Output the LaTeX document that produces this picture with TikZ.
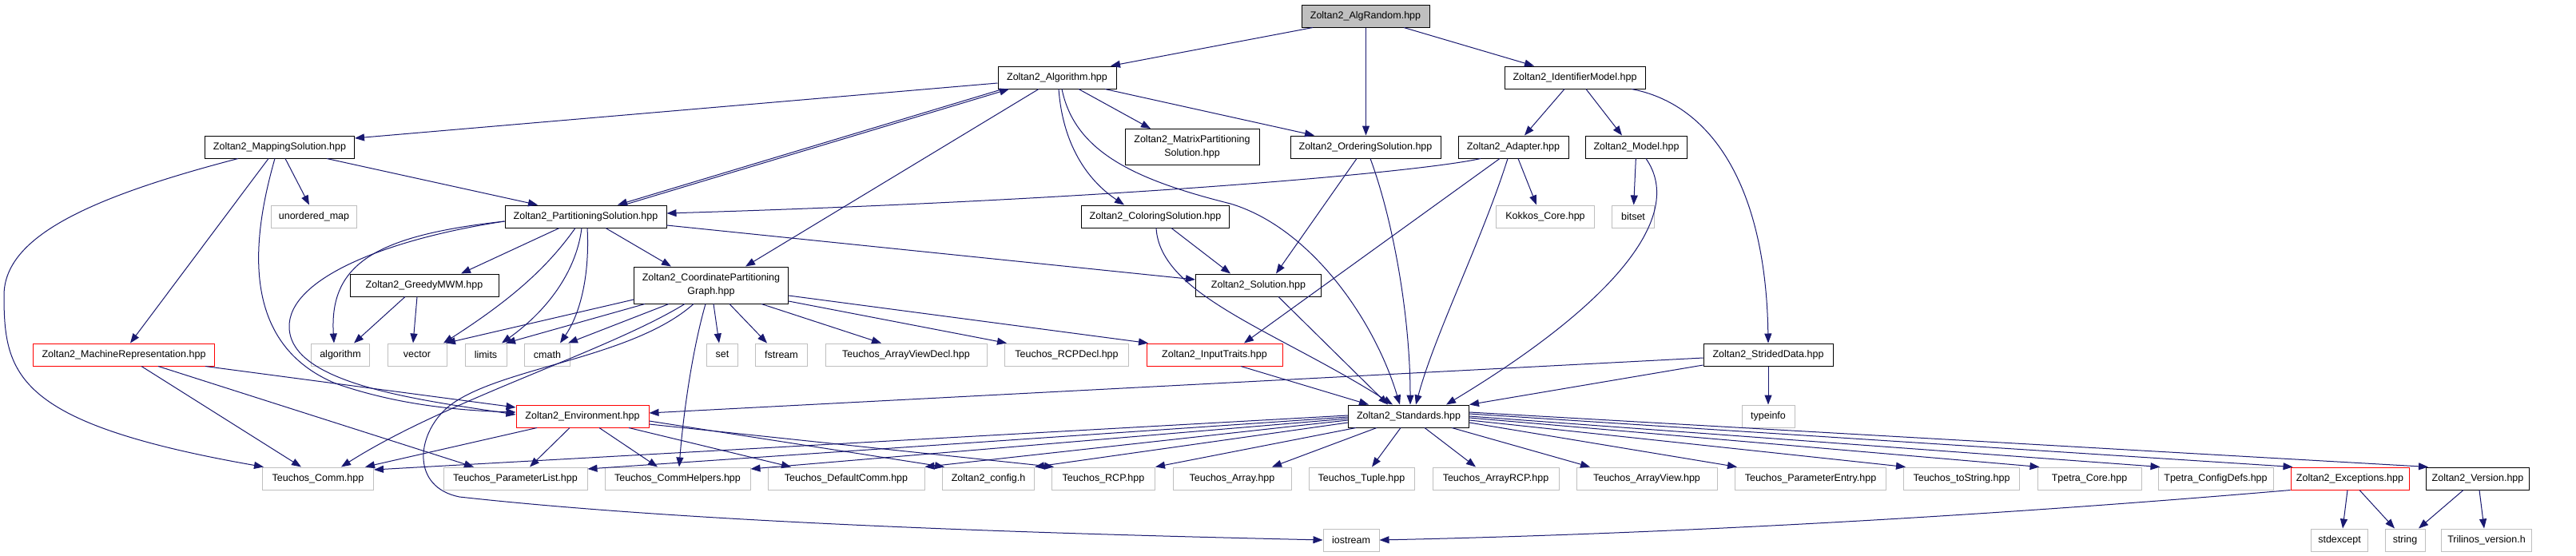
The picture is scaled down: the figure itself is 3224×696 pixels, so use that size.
\documentclass[tikz,border=0pt]{standalone}
\usepackage{fontspec}
\setmainfont{Liberation Sans}
\usetikzlibrary{arrows.meta}
\definecolor{edgeblue}{RGB}{25,25,112}
\definecolor{grayline}{RGB}{191,191,191}
\begin{document}
\begin{tikzpicture}[x=1pt,y=-1pt,
 box/.style={draw=black,line width=1pt,rectangle,inner sep=0pt,minimum height=28pt,font=\fontsize{12.5}{17}\selectfont,align=center},
 ext/.style={box,draw=grayline},
 trunc/.style={box,draw=red},
 root/.style={box,fill=grayline},
 e/.style={draw=edgeblue,line width=1pt,-{Triangle[length=12pt,width=9pt]}},
]
\useasboundingbox[fill=white] (0,0) rectangle (3224,696);
% row 0
\node[root,minimum width=160pt] (alg) at (1709,20) {Zoltan2\_AlgRandom.hpp};
% row 1
\node[box,minimum width=148pt] (algo) at (1323,97) {Zoltan2\_Algorithm.hpp};
\node[box,minimum width=176pt] (idm) at (1971,97) {Zoltan2\_IdentifierModel.hpp};
% row 2
\node[box,minimum width=187pt] (map) at (350,184) {Zoltan2\_MappingSolution.hpp};
\node[box,minimum width=168pt,minimum height=45pt] (mat) at (1492,184) {Zoltan2\_MatrixPartitioning\\Solution.hpp};
\node[box,minimum width=188pt] (ord) at (1709,184) {Zoltan2\_OrderingSolution.hpp};
\node[box,minimum width=138pt] (adp) at (1894,184) {Zoltan2\_Adapter.hpp};
\node[box,minimum width=127pt] (mdl) at (2048,184) {Zoltan2\_Model.hpp};
% row 3
\node[ext,minimum width=107pt] (umap) at (393,271) {unordered\_map};
\node[box,minimum width=202pt] (part) at (733,271) {Zoltan2\_PartitioningSolution.hpp};
\node[box,minimum width=185pt] (col) at (1446,271) {Zoltan2\_ColoringSolution.hpp};
\node[ext,minimum width=123pt] (kok) at (1934,271) {Kokkos\_Core.hpp};
\node[ext,minimum width=53pt] (bits) at (2044,271) {bitset};
% row 4
\node[box,minimum width=186pt] (grd) at (531,357) {Zoltan2\_GreedyMWM.hpp};
\node[box,minimum width=193pt,minimum height=46pt] (crd) at (890,357) {Zoltan2\_CoordinatePartitioning\\Graph.hpp};
\node[box,minimum width=157pt] (sol) at (1575,357) {Zoltan2\_Solution.hpp};
% row 5
\node[trunc,minimum width=227pt] (mach) at (155,444) {Zoltan2\_MachineRepresentation.hpp};
\node[ext,minimum width=73pt] (algm) at (426,444) {algorithm};
\node[ext,minimum width=74pt] (vec) at (522,444) {vector};
\node[ext,minimum width=52pt] (lim) at (608,444) {limits};
\node[ext,minimum width=57pt] (cmath) at (685,444) {cmath};
\node[ext,minimum width=39pt] (set) at (904,444) {set};
\node[ext,minimum width=65pt] (fstr) at (978,444) {fstream};
\node[ext,minimum width=202pt] (avd) at (1134,444) {Teuchos\_ArrayViewDecl.hpp};
\node[ext,minimum width=155pt] (rcpd) at (1335,444) {Teuchos\_RCPDecl.hpp};
\node[trunc,minimum width=170pt] (inp) at (1520,444) {Zoltan2\_InputTraits.hpp};
\node[box,minimum width=162pt] (str) at (2213,444) {Zoltan2\_StridedData.hpp};
% row 6
\node[trunc,minimum width=166pt] (env) at (729,521) {Zoltan2\_Environment.hpp};
\node[box,minimum width=151pt] (std) at (1763,521) {Zoltan2\_Standards.hpp};
\node[ext,minimum width=66pt] (tinf) at (2213,521) {typeinfo};
% row 7
\node[ext,minimum width=139pt] (comm) at (398,599) {Teuchos\_Comm.hpp};
\node[ext,minimum width=180pt] (plist) at (645,599) {Teuchos\_ParameterList.hpp};
\node[ext,minimum width=182pt] (chelp) at (848,599) {Teuchos\_CommHelpers.hpp};
\node[ext,minimum width=196pt] (dcomm) at (1059,599) {Teuchos\_DefaultComm.hpp};
\node[ext,minimum width=115pt] (cfg) at (1237,599) {Zoltan2\_config.h};
\node[ext,minimum width=129pt] (rcp) at (1381,599) {Teuchos\_RCP.hpp};
\node[ext,minimum width=148pt] (arr) at (1542,599) {Teuchos\_Array.hpp};
\node[ext,minimum width=132pt] (tup) at (1704,599) {Teuchos\_Tuple.hpp};
\node[ext,minimum width=158pt] (arcp) at (1872,599) {Teuchos\_ArrayRCP.hpp};
\node[ext,minimum width=176pt] (av) at (2061,599) {Teuchos\_ArrayView.hpp};
\node[ext,minimum width=189pt] (pent) at (2266,599) {Teuchos\_ParameterEntry.hpp};
\node[ext,minimum width=145pt] (tstr) at (2455,599) {Teuchos\_toString.hpp};
\node[ext,minimum width=130pt] (tcore) at (2615,599) {Tpetra\_Core.hpp};
\node[ext,minimum width=144pt] (tcfg) at (2773,599) {Tpetra\_ConfigDefs.hpp};
\node[trunc,minimum width=148pt] (exc) at (2941,599) {Zoltan2\_Exceptions.hpp};
\node[box,minimum width=129pt] (ver) at (3101,599) {Zoltan2\_Version.hpp};
% row 8
\node[ext,minimum width=70pt] (ios) at (1691,676) {iostream};
\node[ext,minimum width=71pt] (stdx) at (2928,676) {stdexcept};
\node[ext,minimum width=50pt] (strg) at (3010,676) {string};
\node[ext,minimum width=113pt] (tver) at (3112,676) {Trilinos\_version.h};

% AlgRandom
\draw[e] ([xshift=-66pt]alg.south) -- ([xshift=67pt]algo.north);
\draw[e] ([xshift=0.5pt]alg.south) -- ([xshift=0.5pt]ord.north);
\draw[e] ([xshift=48pt]alg.south) -- ([xshift=-51pt]idm.north);
% Algorithm
\draw[e] ([yshift=-7pt]algo.west) -- ([yshift=11pt]map.east);
\draw[e] ([xshift=-68pt]algo.south) -- ([xshift=40pt]part.north);
\draw[e] ([xshift=48pt]part.north) -- ([xshift=-60pt]algo.south);
\draw[e] ([xshift=27pt]algo.south) -- ([xshift=-52pt]mat.north);
\draw[e] ([xshift=60pt]algo.south) -- ([xshift=-64pt]ord.north);
\draw[e] ([xshift=2pt]algo.south) .. controls (1330,180) and (1360,225) .. ([xshift=-39pt]col.north);
\draw[e] ([xshift=-23pt]algo.south) -- ([xshift=43pt]crd.north);
\draw[e] ([xshift=6pt]algo.south) .. controls (1345,190) and (1420,225) .. (1540,255) .. controls (1640,285) and (1720,400) .. ([xshift=-11pt]std.north);
% Mapping
\draw[e] ([xshift=7pt]map.south) -- ([xshift=-6pt]umap.north);
\draw[e] ([xshift=59pt]map.south) -- ([xshift=-60pt]part.north);
\draw[e] ([xshift=-52pt]map.south) .. controls (100,250) and (5,300) .. (5,370) .. controls (5,470) and (20,530) .. ([xshift=-68pt]comm.north);
\draw[e] ([xshift=-14pt]map.south) -- ([xshift=8pt]mach.north);
\draw[e] ([xshift=-6pt]map.south) .. controls (315,300) and (300,430) .. (420,480) .. controls (500,508) and (580,514) .. ([yshift=5pt]env.west);
% Partitioning
\draw[e] ([yshift=-6pt]part.west) .. controls (480,300) and (360,350) .. (362,410) .. controls (364,480) and (520,500) .. ([yshift=2pt]env.west);
\draw[e] ([yshift=-6pt]part.west) .. controls (470,295) and (412,330) .. ([xshift=-8pt]algm.north);
\draw[e] ([xshift=-33pt]part.south) -- ([xshift=46pt]grd.north);
\draw[e] ([xshift=-13pt]part.south) .. controls (685,335) and (640,375) .. ([xshift=33pt]vec.north);
\draw[e] ([xshift=-5pt]part.south) .. controls (722,335) and (690,385) .. ([xshift=20pt]lim.north);
\draw[e] ([xshift=2pt]part.south) .. controls (738,340) and (728,390) .. ([xshift=16pt]cmath.north);
\draw[e] ([xshift=25pt]part.south) -- ([xshift=-50pt]crd.north);
\draw[e] ([yshift=-11pt]part.east) -- ([yshift=7pt]sol.west);
% Greedy
\draw[e] ([xshift=-24pt]grd.south) -- ([xshift=17pt]algm.north);
\draw[e] ([xshift=-9pt]grd.south) -- ([xshift=-5pt]vec.north);
% Coordinate partitioning graph
\draw[e] ([yshift=-18pt]crd.west) -- ([xshift=36pt]vec.north);
\draw[e] ([xshift=-83pt]crd.south) -- ([xshift=25pt]lim.north);
\draw[e] ([xshift=-53pt]crd.south) -- ([xshift=26pt]cmath.north);
\draw[e] ([xshift=-33pt]crd.south) .. controls (760,440) and (560,500) .. ([xshift=29pt]comm.north);
\draw[e] ([xshift=-22pt]crd.south) .. controls (790,450) and (620,460) .. (560,510) .. controls (520,545) and (515,610) .. (575,622) .. controls (900,658) and (1400,670) .. (ios.west);
\draw[e] ([xshift=-7pt]crd.south) .. controls (866,440) and (855,520) .. ([xshift=2pt]chelp.north);
\draw[e] ([xshift=3pt]crd.south) -- ([xshift=-4pt]set.north);
\draw[e] ([xshift=23pt]crd.south) -- ([xshift=-18pt]fstr.north);
\draw[e] ([xshift=63pt]crd.south) -- ([xshift=-31pt]avd.north);
\draw[e] ([yshift=-20pt]crd.east) -- ([xshift=-75pt]rcpd.north);
\draw[e] ([yshift=-13pt]crd.east) -- ([xshift=-83pt]inp.north);
% Machine representation
\draw[e] ([xshift=22pt]mach.south) -- ([xshift=-21pt]comm.north);
\draw[e] ([xshift=43pt]mach.south) -- ([xshift=-52pt]plist.north);
\draw[e] ([xshift=102pt]mach.south) -- ([yshift=11pt]env.west);
% Environment
\draw[e] ([xshift=-57pt]env.south) -- ([xshift=59pt]comm.north);
\draw[e] ([xshift=-16pt]env.south) -- ([xshift=18pt]plist.north);
\draw[e] ([xshift=21pt]env.south) -- ([xshift=-25pt]chelp.north);
\draw[e] ([xshift=58pt]env.south) -- ([xshift=-69pt]dcomm.north);
\draw[e] ([yshift=-6pt]env.east) -- ([xshift=-55pt]cfg.north);
\draw[e] ([yshift=-10pt]env.east) -- ([xshift=-62pt]rcp.north);
% Standards
\draw[e] ([yshift=1pt]std.west) -- ([yshift=11pt]comm.east);
\draw[e] ([yshift=-1pt]std.west) -- ([yshift=12pt]plist.east);
\draw[e] ([yshift=-3pt]std.west) -- ([yshift=12pt]chelp.east);
\draw[e] ([yshift=-5pt]std.west) -- (dcomm.north east);
\draw[e] ([yshift=-8pt]std.west) -- (cfg.north east);
\draw[e] ([xshift=-66pt]std.south) -- (rcp.north east);
\draw[e] ([xshift=-40pt]std.south) -- ([xshift=50pt]arr.north);
\draw[e] ([xshift=-10pt]std.south) -- ([xshift=13pt]tup.north);
\draw[e] ([xshift=20pt]std.south) -- ([xshift=-25pt]arcp.north);
\draw[e] ([xshift=54pt]std.south) -- ([xshift=-71pt]av.north);
\draw[e] ([yshift=-8pt]std.east) -- ([xshift=3pt]pent.north west);
\draw[e] ([yshift=-5pt]std.east) -- ([xshift=3pt]tstr.north west);
\draw[e] ([yshift=-2pt]std.east) -- ([xshift=3pt]tcore.north west);
\draw[e] ([yshift=0pt]std.east) -- ([xshift=3pt]tcfg.north west);
\draw[e] ([yshift=3pt]std.east) -- ([xshift=3pt]exc.north west);
\draw[e] ([yshift=5pt]std.east) -- ([xshift=3pt]ver.north west);
% Strided data
\draw[e] ([yshift=-4pt]str.west) -- ([yshift=4pt]env.east);
\draw[e] ([yshift=-13pt]str.west) -- (std.north east);
\draw[e] (str) -- (tinf);
% Identifier model
\draw[e] ([xshift=-13pt]idm.south) -- ([xshift=14pt]adp.north);
\draw[e] ([xshift=14pt]idm.south) -- ([xshift=-18pt]mdl.north);
\draw[e] ([xshift=71pt]idm.south) .. controls (2140,130) and (2210,230) .. (str.north);
% Adapter
\draw[e] ([xshift=-41pt]adp.south) .. controls (1780,215) and (1400,250) .. ([yshift=4pt]part.east);
\draw[e] ([xshift=6pt]adp.south) -- ([xshift=-11pt]kok.north);
\draw[e] ([xshift=-17pt]adp.south) -- ([xshift=37pt]inp.north);
\draw[e] ([xshift=-7pt]adp.south) .. controls (1855,300) and (1795,420) .. ([xshift=9pt]std.north);
% Model
\draw[e] (mdl) -- (bits);
\draw[e] ([xshift=12pt]mdl.south) .. controls (2110,270) and (2020,380) .. ([xshift=47pt]std.north);
% Ordering
\draw[e] ([xshift=-11pt]ord.south) -- ([xshift=22pt]sol.north);
\draw[e] ([xshift=6pt]ord.south) .. controls (1745,280) and (1765,400) .. ([xshift=2pt]std.north);
% Coloring
\draw[e] ([xshift=20pt]col.south) -- ([xshift=-35pt]sol.north);
\draw[e] ([xshift=1pt]col.south) .. controls (1452,370) and (1600,415) .. ([xshift=-20pt]std.north);
% Solution, InputTraits
\draw[e] ([xshift=25pt]sol.south) -- ([xshift=-26pt]std.north);
\draw[e] ([xshift=33pt]inp.south) -- ([xshift=-50pt]std.north);
% Exceptions, Version
\draw[e] ([xshift=-3pt]exc.south) -- ([xshift=4pt]stdx.north);
\draw[e] ([xshift=12pt]exc.south) -- ([xshift=-13pt]strg.north);
\draw[e] (exc.south west) .. controls (2500,645) and (2100,668) .. (ios.east);
\draw[e] ([xshift=-18pt]ver.south) -- ([xshift=17pt]strg.north);
\draw[e] ([xshift=2pt]ver.south) -- ([xshift=-3pt]tver.north);
\end{tikzpicture}
\end{document}
